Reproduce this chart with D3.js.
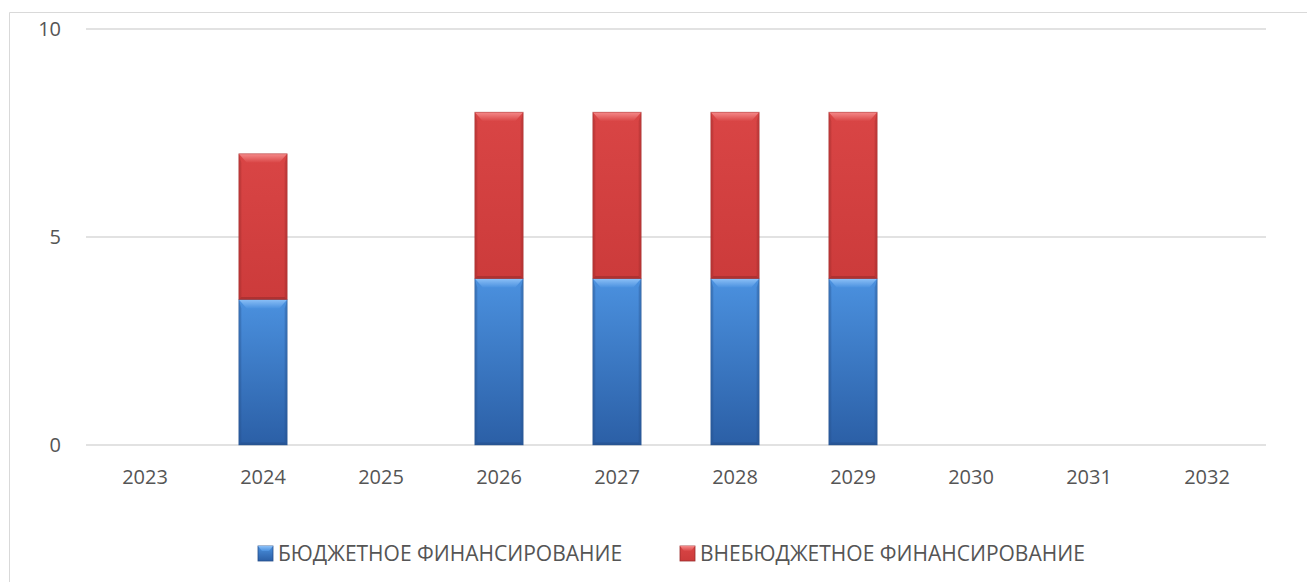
<!DOCTYPE html>
<html>
<head>
<meta charset="utf-8">
<script src="https://cdn.jsdelivr.net/npm/d3@7"></script>
<style>
  body { margin: 0; background: #fff; }
  text { font-family: "Open Sans", "Noto Sans", sans-serif; fill: #555555; }
</style>
</head>
<body>
<div id="chart"></div>
<script>
// chart data
var years = ["2023", "2024", "2025", "2026", "2027", "2028", "2029", "2030", "2031", "2032"];
var budget = [0, 3.5, 0, 4, 4, 4, 4, 0, 0, 0];
var offBudget = [0, 3.5, 0, 4, 4, 4, 4, 0, 0, 0];
var seriesNames = ["БЮДЖЕТНОЕ ФИНАНСИРОВАНИЕ", "ВНЕБЮДЖЕТНОЕ ФИНАНСИРОВАНИЕ"];
var yTicks = [0, 5, 10];

var svgWidth = 1307;
var svgHeight = 582;

var svg = d3.select("#chart")
    .append("svg")
    .attr("width", svgWidth)
    .attr("height", svgHeight);

// outer frame (only top and left visible)
svg.append("path")
    .attr("d", "M9.5,582 V12.5 H1307")
    .attr("fill", "none")
    .attr("stroke", "#d9d9d9")
    .attr("stroke-width", 1);

var plot = { left: 86, right: 1266, top: 29, bottom: 445 };

var x = d3.scaleBand()
    .domain(years)
    .range([plot.left, plot.right])
    .paddingInner(0.59)
    .paddingOuter(0.295);

var y = d3.scaleLinear()
    .domain([0, 10])
    .range([plot.bottom, plot.top]);

// gradients for the bevelled bars
var defs = svg.append("defs");
var styles = [
  { id: "blueG", top: "#4b91df", bottom: "#2b5fa6", light: "#8cc0f7", edge: "#264f8a" },
  { id: "redG", top: "#d94545", bottom: "#cc3b3b", light: "#f58a8a", edge: "#9a2c2c" }
];
styles.forEach(function(s) {
  var g = defs.append("linearGradient")
      .attr("id", s.id)
      .attr("x1", 0).attr("y1", 0).attr("x2", 0).attr("y2", 1);
  g.append("stop").attr("offset", "0%").attr("stop-color", s.top);
  g.append("stop").attr("offset", "100%").attr("stop-color", s.bottom);
  var t = defs.append("linearGradient")
      .attr("id", s.id + "T")
      .attr("x1", 0).attr("y1", 0).attr("x2", 0).attr("y2", 1);
  t.append("stop").attr("offset", "0%").attr("stop-color", s.light);
  t.append("stop").attr("offset", "100%").attr("stop-color", s.top);
});

// grid lines
svg.append("g")
  .selectAll("line")
  .data(yTicks)
  .enter()
  .append("line")
    .attr("x1", plot.left)
    .attr("x2", plot.right)
    .attr("y1", d => y(d))
    .attr("y2", d => y(d))
    .attr("stroke", "#d9d9d9")
    .attr("stroke-width", 1.5);

// y labels
svg.append("g")
  .selectAll("text")
  .data(yTicks)
  .enter()
  .append("text")
    .attr("x", 61)
    .attr("y", d => y(d))
    .attr("dy", "0.36em")
    .attr("text-anchor", "end")
    .attr("font-size", 20)
    .text(d => d);

// x labels
svg.append("g")
  .selectAll("text")
  .data(years)
  .enter()
  .append("text")
    .attr("x", d => x(d) + x.bandwidth() / 2)
    .attr("y", 477)
    .attr("dy", "0.36em")
    .attr("text-anchor", "middle")
    .attr("font-size", 20)
    .text(d => d);

// stacked segments
var stackData = years.map(function(yr, i) {
  return { year: yr, s0: budget[i], s1: offBudget[i] };
});
var stack = d3.stack().keys(["s0", "s1"]);
var layers = stack(stackData);

function drawSegment(g, x0, y0, w, h, s) {
  var b = Math.min(9, h / 2);
  var e = 2.5;
  var x1 = x0 + w, y1 = y0 + h;
  g.append("rect")
    .attr("x", x0).attr("y", y0).attr("width", w).attr("height", h)
    .attr("fill", "url(#" + s.id + ")");
  // side edges
  g.append("path")
    .attr("d", `M${x0},${y0} L${x0 + e},${y0 + b} L${x0 + e},${y1 - e} L${x0},${y1} Z`)
    .attr("fill", s.edge).attr("opacity", 0.35);
  g.append("path")
    .attr("d", `M${x1},${y0} L${x1 - e},${y0 + b} L${x1 - e},${y1 - e} L${x1},${y1} Z`)
    .attr("fill", s.edge).attr("opacity", 0.35);
  // bottom edge
  g.append("path")
    .attr("d", `M${x0},${y1} L${x0 + e},${y1 - e} L${x1 - e},${y1 - e} L${x1},${y1} Z`)
    .attr("fill", s.edge).attr("opacity", 0.6);
  // top bevel
  g.append("path")
    .attr("d", `M${x0},${y0} L${x1},${y0} L${x1 - 8},${y0 + b} L${x0 + 8},${y0 + b} Z`)
    .attr("fill", "url(#" + s.id + "T)");
  g.append("rect")
    .attr("x", x0).attr("y", y0).attr("width", w).attr("height", h)
    .attr("fill", "none").attr("stroke", s.edge).attr("stroke-opacity", 0.5).attr("stroke-width", 0.8);
}

var bars = svg.append("g");
layers.forEach(function(layer, li) {
  layer.forEach(function(d) {
    var v = d[1] - d[0];
    if (v <= 0) return;
    var x0 = x(d.data.year);
    var yTop = y(d[1]);
    var h = y(d[0]) - yTop;
    drawSegment(bars.append("g"), x0, yTop, x.bandwidth(), h, styles[li]);
  });
});

// legend
var legendItems = [
  { name: seriesNames[0], x: 258, style: styles[0] },
  { name: seriesNames[1], x: 680, style: styles[1] }
];
var sq = 15, ly = 546;
var legend = svg.append("g");
legendItems.forEach(function(it) {
  var g = legend.append("g");
  g.append("rect")
    .attr("x", it.x).attr("y", ly).attr("width", sq).attr("height", sq)
    .attr("fill", "url(#" + it.style.id + ")")
    .attr("stroke", it.style.edge).attr("stroke-width", 0.8);
  g.append("path")
    .attr("d", `M${it.x},${ly} L${it.x + sq},${ly} L${it.x + sq - 4},${ly + 5} L${it.x + 4},${ly + 5} Z`)
    .attr("fill", "url(#" + it.style.id + "T)");
  g.append("text")
    .attr("x", it.x + sq + 5)
    .attr("y", ly + sq / 2)
    .attr("dy", "0.36em")
    .attr("font-size", 21)
    .text(it.name);
});
</script>
</body>
</html>
